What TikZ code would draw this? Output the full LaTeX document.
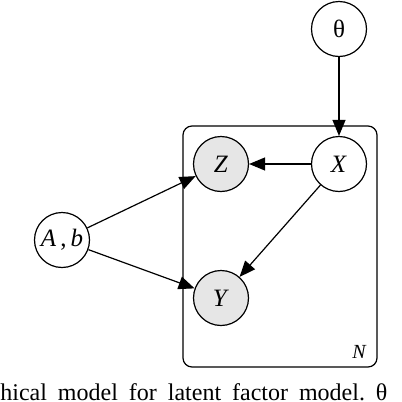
\documentclass[tikz,border=0pt]{standalone}
\usepackage{fontspec}
\setmainfont{Liberation Serif}
\usepackage{tikz}
\usepackage{xcolor}
\usetikzlibrary{arrows.meta}
\definecolor{obsgrey}{HTML}{E6E6E6}
\tikzset{
    latent-node/.style = {draw, circle, fill=white, line width=0.6pt, minimum size=27.5pt, inner sep=0pt, font=\fontsize{12.5}{14}\selectfont},
    observed-node/.style = {latent-node, fill=obsgrey},
    plate-box/.style = {draw, rectangle, rounded corners=4.5pt, line width=0.6pt, minimum width=97pt, minimum height=120.5pt, inner sep=0pt},
    edge-arrow/.style = {-{Triangle[length=8pt,width=6.5pt]}, line width=0.6pt},
}

\begin{document}
\begin{tikzpicture}[x=0.5pt, y=-0.5pt]
\clip (0,0) rectangle (402,402);
\useasboundingbox (0,0) rectangle (402,402);
\node [plate-box] (plate) at (280,246.5) {};
\node [font=\fontsize{10}{12}\selectfont\itshape, anchor=base east, inner sep=0pt] (n-label) at (366,358) {N};
\node [latent-node] (theta) at (339,29) {θ};
\node [latent-node] (x) at (339,164) {\textit{X}};
\node [observed-node] (z) at (221,164) {\textit{Z}};
\node [observed-node] (y) at (221,298) {\textit{Y}};
\node [latent-node] (ab) at (62,240) {\textit{A}\,,\,\textit{b}};
\draw [edge-arrow] (theta) -- (x);
\draw [edge-arrow] (x) -- (z);
\draw [edge-arrow] (x) -- (y);
\draw [edge-arrow] (ab) -- (z);
\draw [edge-arrow] (ab) -- (y);
\node [anchor=base west, inner sep=0pt, font=\fontsize{12}{14}\selectfont] (caption) at (0,400) {\frenchspacing\makebox[193.5pt][s]{hical model for latent factor model. θ}};
\end{tikzpicture}
\end{document}
